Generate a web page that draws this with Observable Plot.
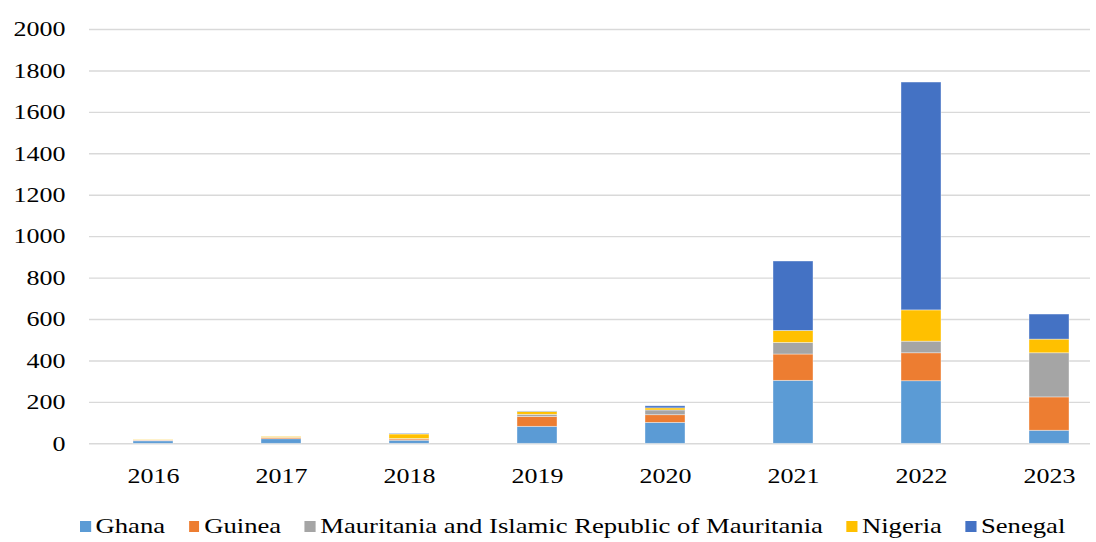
<!DOCTYPE html>
<html>
<head>
<meta charset="utf-8">
<script src="https://cdn.jsdelivr.net/npm/d3@7"></script>
<script src="https://cdn.jsdelivr.net/npm/@observablehq/plot@0.6"></script>
<style>
  html, body { margin: 0; padding: 0; background: #fff; }
  #wrap { position: relative; width: 1096px; height: 542px; overflow: hidden; font-family: "Liberation Serif", "Times New Roman", serif; }
  #legend { position: absolute; left: 80px; top: 511px; height: 30px; line-height: 30px; white-space: nowrap;
            font-size: 21.5px; color: #000; transform: scaleX(1.24); transform-origin: left center; display: flex; align-items: center; }
  .item { display: flex; align-items: center; margin-right: 19px; }
  .sw { width: 8.5px; height: 11px; margin-right: 4px; display: inline-block; }
</style>
</head>
<body>
<div id="wrap">
  <div id="chart"></div>
  <div id="legend"></div>
</div>
<script>
// Years on the x axis
const years = ["2016", "2017", "2018", "2019", "2020", "2021", "2022", "2023"];

// Series, in stacking order from the bottom up
const countries = ["Ghana", "Guinea", "Mauritania and Islamic Republic of Mauritania", "Nigeria", "Senegal"];
const colors = ["#5B9BD5", "#ED7D31", "#A5A5A5", "#FFC000", "#4472C4"];

const ghana      = [12, 22, 15, 82, 101, 304, 302, 63];
const guinea     = [3, 6, 6, 47, 37, 127, 135, 161];
const mauritania = [1, 1, 2, 11, 23, 56, 56, 213];
const nigeria    = [2, 4, 22, 14, 10, 58, 151, 66];
const senegal    = [0, 0, 3, 2, 10, 335, 1100, 121];

// Y axis tick values
const yTicks = [0, 200, 400, 600, 800, 1000, 1200, 1400, 1600, 1800, 2000];

const seriesValues = [ghana, guinea, mauritania, nigeria, senegal];
const rows = [];
years.forEach((year, i) => {
  countries.forEach((country, j) => {
    rows.push({ year, country, value: seriesValues[j][i] });
  });
});

const chart = Plot.plot({
  width: 1096,
  height: 500,
  marginLeft: 89,
  marginRight: 6,
  marginTop: 29,
  marginBottom: 56.7,
  style: { fontFamily: "'Liberation Serif', 'Times New Roman', serif", fontSize: "21px", color: "#000", background: "white", overflow: "visible" },
  x: { type: "band", domain: years, range: [89, 1113], paddingInner: 0.6875, paddingOuter: 0.34375, label: null, tickSize: 0, tickPadding: 24 },
  y: { domain: [0, 2000], ticks: yTicks, tickFormat: "d", label: null, tickSize: 0, tickPadding: 24 },
  color: { domain: countries, range: colors },
  marks: [
    Plot.ruleY(yTicks, { stroke: "#d9d9d9", strokeWidth: 1.4 }),
    Plot.barY(rows, { x: "year", y: "value", fill: "country", order: countries, stroke: "white", strokeWidth: 0.75, strokeOpacity: 0.5 })
  ]
});

// Widen the tick label glyphs horizontally around their anchors
chart.querySelectorAll("text").forEach(t => {
  const x = parseFloat(t.getAttribute("x") || 0) || 0;
  const tr = t.getAttribute("transform") || "";
  t.setAttribute("transform", `${tr} translate(${x},0) scale(1.24,1) translate(${-x},0)`.trim());
});

document.getElementById("chart").appendChild(chart);

// Legend
const legend = document.getElementById("legend");
countries.forEach((c, i) => {
  const item = document.createElement("span");
  item.className = "item";
  const sw = document.createElement("span");
  sw.className = "sw";
  sw.style.background = colors[i];
  const label = document.createElement("span");
  label.textContent = c;
  item.appendChild(sw);
  item.appendChild(label);
  legend.appendChild(item);
});
</script>
</body>
</html>
